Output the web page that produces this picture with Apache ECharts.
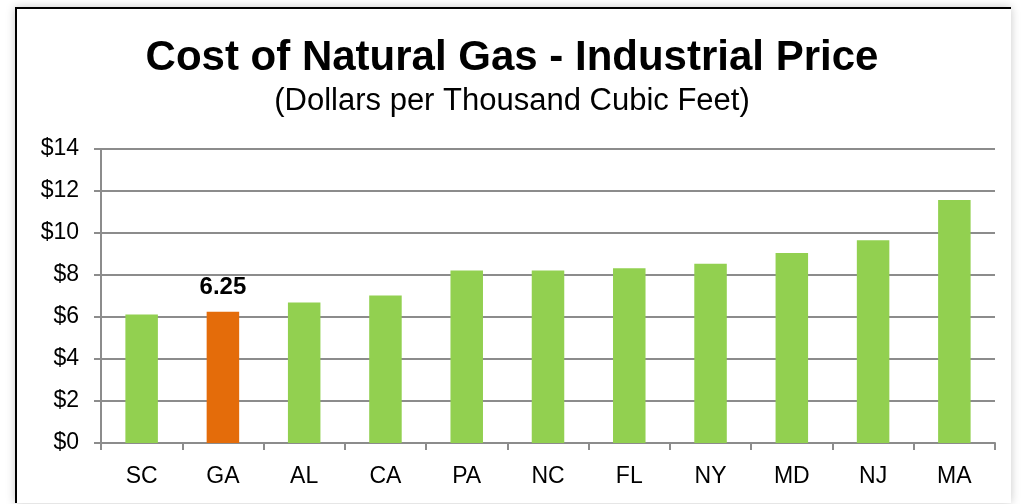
<!DOCTYPE html>
<html>
<head>
<meta charset="utf-8">
<script src="https://cdn.jsdelivr.net/npm/echarts@6/dist/echarts.min.js"></script>
<style>
  html, body { margin: 0; padding: 0; background: #ffffff; }
  #frame { position: absolute; left: 15px; top: 7px; width: 994px; height: 494px;
           background: #ffffff; border-left: 2px solid #000; border-top: 2px solid #000;
           box-shadow: 0 0 9px rgba(0,0,0,0.22); }
  #chart { position: absolute; left: 0; top: 0; width: 1024px; height: 504px; }
</style>
</head>
<body>
<div id="frame"></div>
<div id="chart"></div>
<script>
const categories = ['SC', 'GA', 'AL', 'CA', 'PA', 'NC', 'FL', 'NY', 'MD', 'NJ', 'MA'];
const prices = [6.12, 6.25, 6.69, 7.02, 8.22, 8.22, 8.32, 8.54, 9.05, 9.65, 11.57];
const highlightCategory = 'GA';
const yTicks = [0, 2, 4, 6, 8, 10, 12, 14];
const titleText = 'Cost of Natural Gas - Industrial Price';
const subtitleText = '(Dollars per Thousand Cubic Feet)';

const GREEN = '#92D050';
const ORANGE = '#E46C0A';
const font = '"Liberation Sans", Arial, sans-serif';

const chart = echarts.init(document.getElementById('chart'), null, { renderer: 'canvas' });
chart.setOption({
  backgroundColor: 'transparent',
  animation: false,
  title: [
    { text: titleText, left: 'center', top: 32,
      textStyle: { fontFamily: font, fontSize: 42, fontWeight: 'bold', color: '#000' } },
    { text: subtitleText, left: 'center', top: 81,
      textStyle: { fontFamily: font, fontSize: 31, fontWeight: 'normal', color: '#000' } }
  ],
  grid: { left: 101, right: 29, top: 149, bottom: 61, containLabel: false },
  xAxis: {
    type: 'category',
    data: categories,
    axisLine: { show: true, lineStyle: { color: '#8c8c8c', width: 2 } },
    axisTick: { show: true, length: 7, lineStyle: { color: '#8c8c8c', width: 2 } },
    axisLabel: { fontFamily: font, fontSize: 23, color: '#000', margin: 22 }
  },
  yAxis: {
    type: 'value',
    min: yTicks[0],
    max: yTicks[yTicks.length - 1],
    interval: yTicks[1] - yTicks[0],
    axisLine: { show: true, lineStyle: { color: '#8c8c8c', width: 2 } },
    axisTick: { show: true, length: 7, lineStyle: { color: '#8c8c8c', width: 2 } },
    splitLine: { show: true, lineStyle: { color: '#8c8c8c', width: 2 } },
    axisLabel: { fontFamily: font, fontSize: 23, color: '#000', margin: 22,
                 formatter: v => '$' + v }
  },
  series: [{
    type: 'bar',
    barWidth: '40%',
    data: prices.map((v, i) => {
      const hi = categories[i] === highlightCategory;
      return {
        value: v,
        itemStyle: { color: hi ? ORANGE : GREEN },
        label: hi ? { show: true, position: 'top', distance: 12,
                      formatter: p => p.value.toFixed(2),
                      fontFamily: font, fontSize: 24, fontWeight: 'bold', color: '#000' }
                  : { show: false }
      };
    })
  }]
});
</script>
</body>
</html>
